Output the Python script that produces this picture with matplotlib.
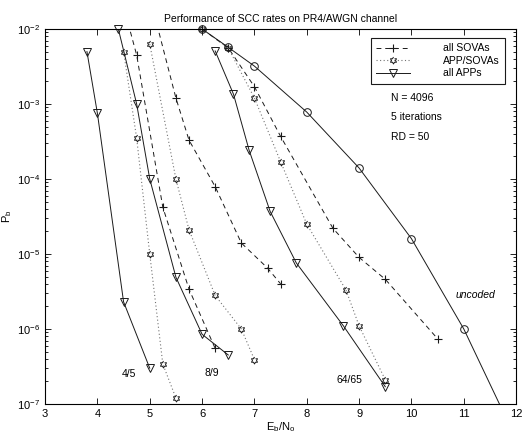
import numpy as np
import matplotlib.pyplot as plt
from matplotlib.lines import Line2D

plt.rcParams['font.family'] = ['Liberation Sans', 'DejaVu Sans']
plt.rcParams['mathtext.fontset'] = 'custom'
plt.rcParams['mathtext.rm'] = 'Liberation Sans'

# data (Eb/No in dB, bit error rate)
# rate 4/5
x45_app = [3.8, 4.0, 4.5, 5.0]
y45_app = [5.0e-3, 7.5e-4, 2.3e-6, 3.0e-7]
x45_mix = [4.5, 4.75, 5.0, 5.25, 5.5]
y45_mix = [5.0e-3, 3.5e-4, 1.0e-5, 3.4e-7, 1.2e-7]
x45_sova = [4.5, 4.75, 5.25, 5.75, 6.25]
y45_sova = [2.0e-2, 4.5e-3, 4.2e-5, 3.4e-6, 5.5e-7]

# rate 8/9
x89_app = [4.4, 4.75, 5.0, 5.5, 6.0, 6.5]
y89_app = [1.0e-2, 1.0e-3, 1.0e-4, 4.9e-6, 8.5e-7, 4.5e-7]
x89_mix = [5.0, 5.5, 5.75, 6.25, 6.75, 7.0]
y89_mix = [6.3e-3, 1.0e-4, 2.1e-5, 2.8e-6, 1.0e-6, 3.9e-7]
x89_sova = [5.0, 5.5, 5.75, 6.25, 6.75, 7.25, 7.5]
y89_sova = [2.7e-2, 1.2e-3, 3.3e-4, 7.9e-5, 1.4e-5, 6.5e-6, 4.0e-6]

# rate 64/65
x64_app = [6.25, 6.6, 6.9, 7.3, 7.8, 8.7, 9.5]
y64_app = [5.1e-3, 1.35e-3, 2.4e-4, 3.7e-5, 7.6e-6, 1.1e-6, 1.7e-7]
x64_mix = [6.0, 6.5, 7.0, 7.5, 8.0, 8.75, 9.0, 9.5]
y64_mix = [1.0e-2, 5.6e-3, 1.2e-3, 1.7e-4, 2.5e-5, 3.3e-6, 1.1e-6, 2.1e-7]
x64_sova = [6.0, 6.5, 7.0, 7.5, 8.5, 9.0, 9.5, 10.5]
y64_sova = [1.0e-2, 5.6e-3, 1.7e-3, 3.7e-4, 2.2e-5, 9.0e-6, 4.6e-6, 7.4e-7]

# uncoded
x_unc = [6.0, 6.5, 7.0, 8.0, 9.0, 10.0, 11.0, 12.0]
y_unc = [1.0e-2, 5.7e-3, 3.2e-3, 7.8e-4, 1.4e-4, 1.6e-5, 1.0e-6, 3.4e-8]

rate_labels = ['4/5', '8/9', '64/65']
rate_label_x = [4.47, 6.04, 8.56]
rate_label_y = [2.5e-7, 2.6e-7, 2.1e-7]

# hexagram marker (like matlab 'h')
ang = np.deg2rad(90 + 30 * np.arange(12))
rad = np.where(np.arange(12) % 2 == 0, 1.0, 1 / np.sqrt(3))
hexagram = list(zip(rad * np.cos(ang), rad * np.sin(ang)))

# styles
sova_style = dict(color='0.1', ls=(0, (5, 4)), lw=0.7, marker='+', ms=5.5, mew=0.8)
mix_style = dict(color='0.45', ls=(0, (1, 2.2)), lw=0.8, marker=hexagram, ms=5, mew=0.7)
app_style = dict(color='0.1', ls='-', lw=0.7, marker='v', ms=5.5, mew=0.7)
unc_style = dict(color='0.1', ls='-', lw=0.7, marker='o', ms=5.5, mew=0.7)

ymin, ymax = 1e-7, 1e-2


def draw_curve(ax, x, y, style):
    x = np.array(x)
    y = np.array(y)
    st = dict(style)
    mk = st.pop('marker')
    ms = st.pop('ms')
    mew = st.pop('mew')
    # line is clipped by the axes
    ax.plot(x, y, color=st['color'], ls=st['ls'], lw=st['lw'])
    # markers not clipped, like matlab, but only the ones inside the range
    inside = (y >= ymin * 0.99) & (y <= ymax * 1.01)
    mcol = '0.1' if st['color'] == '0.45' else st['color']
    ax.plot(x[inside], y[inside], ls='none', marker=mk, ms=ms, mew=mew,
            mfc='none', mec=mcol, clip_on=False)


fig = plt.figure(figsize=(5.24, 4.33), dpi=100)
ax = fig.add_axes([0.086, 0.067, 0.899, 0.866])

draw_curve(ax, x45_sova, y45_sova, sova_style)
draw_curve(ax, x45_mix, y45_mix, mix_style)
draw_curve(ax, x45_app, y45_app, app_style)
draw_curve(ax, x89_sova, y89_sova, sova_style)
draw_curve(ax, x89_mix, y89_mix, mix_style)
draw_curve(ax, x89_app, y89_app, app_style)
draw_curve(ax, x64_sova, y64_sova, sova_style)
draw_curve(ax, x64_mix, y64_mix, mix_style)
draw_curve(ax, x64_app, y64_app, app_style)
draw_curve(ax, x_unc, y_unc, unc_style)

ax.set_yscale('log')
ax.set_xlim(3, 12)
ax.set_ylim(ymin, ymax)
ax.set_xticks(range(3, 13))
ax.tick_params(which='both', direction='in', top=True, right=True,
               labelsize=8, width=0.6)
ax.tick_params(which='major', length=4)
ax.tick_params(which='minor', length=2)
ax.xaxis.set_minor_locator(plt.NullLocator())
for s in ax.spines.values():
    s.set_linewidth(0.8)

ax.set_title('Performance of SCC rates on PR4/AWGN channel', fontsize=7.5, pad=5)
ax.set_xlabel(r'E$_\mathrm{b}$/N$_\mathrm{o}$', fontsize=8, labelpad=1)
ax.set_ylabel(r'P$_\mathrm{b}$', fontsize=8, labelpad=2)

# annotations
for lab, lx, ly in zip(rate_labels, rate_label_x, rate_label_y):
    ax.text(lx, ly, lab, fontsize=7.5, va='center', ha='left')
ax.text(10.84, 2.8e-6, 'uncoded', fontsize=7.5, style='italic', va='center')
ax.text(9.6, 1.2e-3, 'N = 4096', fontsize=7.5, va='center')
ax.text(9.6, 6.7e-4, '5 iterations', fontsize=7.5, va='center')
ax.text(9.6, 3.6e-4, 'RD = 50', fontsize=7.5, va='center')

# legend
handles = [
    Line2D([], [], color='0.1', ls=(0, (5, 4)), lw=0.7, marker='+', ms=5.5, mew=0.8),
    Line2D([], [], color='0.45', ls=(0, (1, 2.2)), lw=0.8, marker=hexagram, ms=5,
           mew=0.7, mfc='none', mec='0.1'),
    Line2D([], [], color='0.1', ls='-', lw=0.7, marker='v', ms=5.5, mew=0.7, mfc='none'),
]
leg = ax.legend(handles, ['all SOVAs', 'APP/SOVAs', 'all APPs'],
                loc='upper right', bbox_to_anchor=(0.987, 0.99),
                fontsize=7.5, handlelength=3.2, handletextpad=3.2,
                labelspacing=0.25, borderpad=0.5, fancybox=False,
                framealpha=1, edgecolor='0.1', markerfirst=True)
leg.get_frame().set_linewidth(0.8)

fig.savefig('out.png', dpi=100)
